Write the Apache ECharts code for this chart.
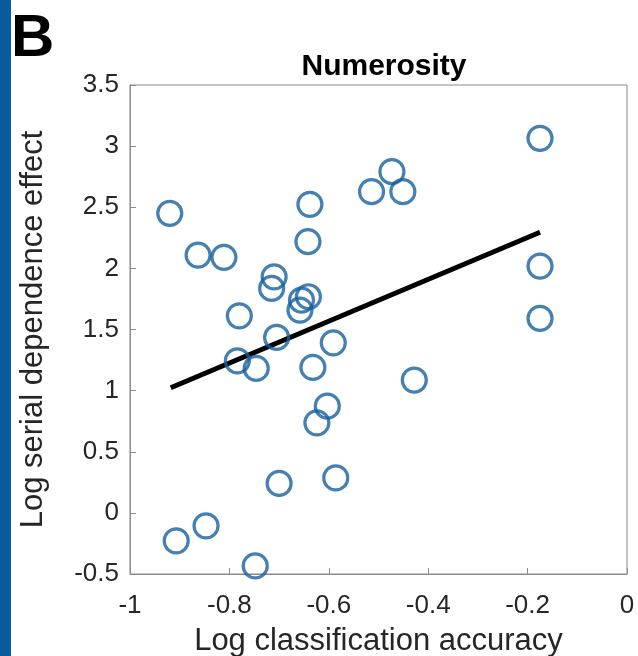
<!DOCTYPE html>
<html>
<head>
<meta charset="utf-8">
<script src="https://cdn.jsdelivr.net/npm/echarts@6/dist/echarts.min.js"></script>
<style>
  html, body { margin: 0; padding: 0; background: #fff; }
  #chart { width: 638px; height: 656px; }
</style>
</head>
<body>
<div id="chart"></div>
<script>
// 散点数据：对数分类准确率 vs 对数序列依赖效应
const accuracy = [
  -0.175, -0.175, -0.175, -0.920, -0.863, -0.811, -0.710, -0.715, -0.780, -0.638,
  -0.642, -0.641, -0.655, -0.658, -0.705, -0.784, -0.746, -0.632, -0.591, -0.514,
  -0.473, -0.451, -0.428, -0.603, -0.624, -0.700, -0.586, -0.907, -0.847, -0.748
]
const serialEffect = [
  3.064, 2.019, 1.591, 2.450, 2.109, 2.090, 1.931, 1.836, 1.612, 2.524,
  2.218, 1.768, 1.741, 1.659, 1.435, 1.244, 1.182, 1.190, 1.391, 2.627,
  2.791, 2.627, 1.086, 0.873, 0.737, 0.241, 0.286, -0.229, -0.106, -0.434
]

// 拟合线的两个端点
const fitX = [-0.918, -0.175]
const fitY = [1.023, 2.295]

const xTicks = { min: -1, max: 0, interval: 0.2 }
const yTicks = { min: -0.5, max: 3.5, interval: 0.5 }

const axisGray = "#8a8a8a"
const textColor = "#262626"
const font = "'Liberation Sans', Arial, sans-serif"

const chart = echarts.init(document.getElementById("chart"), null, { renderer: "canvas" })

chart.setOption({
  animation: false,
  backgroundColor: "#fff",
  title: {
    text: "Numerosity",
    left: 379,
    top: 47,
    textAlign: "center",
    textStyle: { fontFamily: font, fontWeight: "bold", fontSize: 30, color: "#000" }
  },
  graphic: [
    {
      type: "rect",
      left: 0,
      top: 0,
      shape: { width: 11, height: 656 },
      style: { fill: "#0a5a9e" }
    },
    {
      type: "text",
      left: 11,
      top: 9,
      style: { text: "B", fontFamily: font, fontWeight: "bold", fontSize: 60, fill: "#000" }
    }
  ],
  grid: {
    left: 130,
    right: 11,
    top: 85,
    bottom: 82,
    outerBoundsMode: "none",
    containLabel: false,
    show: true,
    borderColor: axisGray,
    borderWidth: 1,
    backgroundColor: "#fff"
  },
  xAxis: {
    type: "value",
    min: xTicks.min,
    max: xTicks.max,
    interval: xTicks.interval,
    name: "Log classification accuracy",
    nameLocation: "middle",
    nameGap: 52,
    nameTextStyle: { fontFamily: font, fontSize: 31, color: textColor },
    axisLine: { show: true, onZero: false, lineStyle: { color: axisGray, width: 1 } },
    axisTick: { show: true, inside: true, length: 6, lineStyle: { color: axisGray } },
    axisLabel: { fontFamily: font, fontSize: 26, color: textColor, margin: 19 },
    splitLine: { show: false }
  },
  yAxis: {
    type: "value",
    min: yTicks.min,
    max: yTicks.max,
    interval: yTicks.interval,
    name: "Log serial dependence effect",
    nameLocation: "middle",
    nameGap: 81,
    nameTextStyle: { fontFamily: font, fontSize: 31, color: textColor },
    axisLine: { show: true, onZero: false, lineStyle: { color: axisGray, width: 1 } },
    axisTick: { show: true, inside: true, length: 6, lineStyle: { color: axisGray } },
    axisLabel: { fontFamily: font, fontSize: 26, color: textColor, margin: 11 },
    splitLine: { show: false }
  },
  series: [
    {
      type: "line",
      data: fitX.map((x, i) => [x, fitY[i]]),
      symbol: "none",
      lineStyle: { color: "#000", width: 5 },
      z: 3
    },
    {
      type: "scatter",
      data: accuracy.map((x, i) => [x, serialEffect[i]]),
      symbol: "circle",
      symbolSize: 24,
      itemStyle: { color: "rgba(0,0,0,0)", borderColor: "#15609e", borderWidth: 3.2 },
      z: 4
    }
  ]
})
</script>
</body>
</html>
